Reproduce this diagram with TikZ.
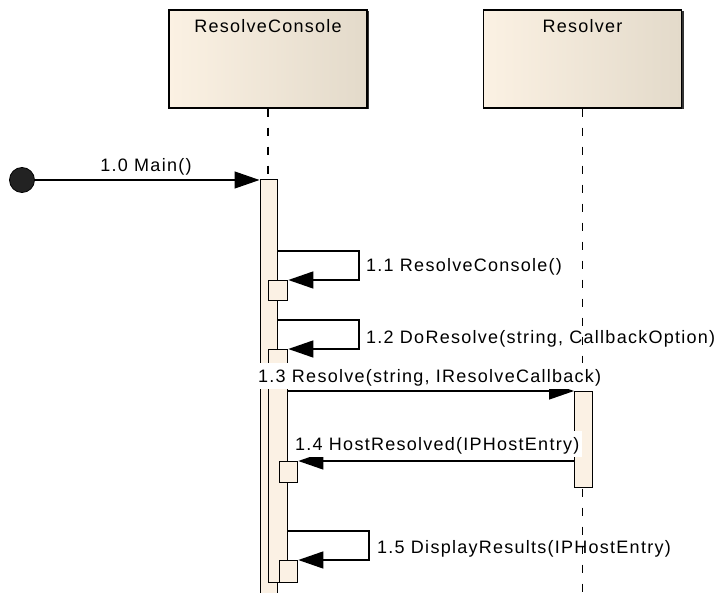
\documentclass[tikz,border=0pt]{standalone}
\usepackage{fontspec}
\setmainfont{Liberation Sans}[LetterSpace=7]
\usetikzlibrary{arrows.meta}

\definecolor{barfill}{RGB}{251,241,228}
\definecolor{hdrlight}{RGB}{251,241,227}
\definecolor{hdrdark}{RGB}{227,218,202}
\definecolor{startdot}{RGB}{34,34,34}

\begin{document}
\begin{tikzpicture}[x=1pt,y=-1pt,
  every node/.style={font=\fontsize{18}{21}\selectfont, text=black},
  header/.style={draw=black, line width=1.1pt, left color=hdrlight, right color=hdrdark,
    minimum width=198pt, minimum height=98pt, inner sep=0pt},
  hshadow/.style={fill=black!80, minimum width=198pt, minimum height=98pt, inner sep=0pt},
  lifeline/.style={line width=1.2pt, dash pattern=on 8pt off 11pt},
  actbar/.style={draw=black, line width=1.3pt, fill=barfill, inner sep=0pt, anchor=north west},
  msg/.style={line width=1.3pt, -{Triangle[length=25pt,width=17pt]}},
  lbl/.style={inner sep=0pt, anchor=base west},
  lblbg/.style={fill=white, anchor=base west, inner xsep=3pt, inner ysep=3pt,
    text height=16pt, text depth=4pt},
]
\useasboundingbox (0,0) rectangle (719,593);

% lifeline heads
\node[hshadow] at (270,60.5) {};
\node[header] (rc) at (268,59) {};
\node[anchor=base] (rctitle) at (268,33) {ResolveConsole};
\node[hshadow] at (584.5,60.5) {};
\node[header] (rs) at (582.5,59) {};
\node[anchor=base] (rstitle) at (582.5,33) {Resolver};

% dashed lifelines
\coordinate (bottom) at (0,600);
\draw[lifeline] (rc.south) -- (rc.south |- bottom);
\draw[lifeline] (rs.south) -- (rs.south |- bottom);

% initial node
\node[circle, fill=startdot, draw=black, line width=0.8pt, minimum size=25pt, inner sep=0pt] (init) at (22,180) {};

% activation bars
\node[actbar, minimum width=17.5pt, minimum height=425pt] (act0) at (259.5,179) {};
\node[actbar, minimum width=19pt, minimum height=20pt] (b1) at (268,280) {};
\node[actbar, minimum width=19pt, minimum height=233pt] (act1) at (268,349) {};
\node[actbar, minimum width=18pt, minimum height=96pt] (act2) at (574,391) {};
\node[actbar, minimum width=18pt, minimum height=21pt] (b4) at (279,461) {};
\node[actbar, minimum width=18pt, minimum height=22pt] (b5) at (279,560) {};

% messages
\draw[msg] (init) -- (init -| act0.west);
\coordinate (t1) at (359,251);
\draw[msg] (act0.east |- t1) -- (t1) |- (b1.north east);
\coordinate (t2) at (359,320);
\draw[msg] (act0.east |- t2) -- (t2) |- (act1.north east);
\draw[msg] (act1.east |- act2.north) -- (act2.north west);
\draw[msg] (act2.west |- b4.north) -- (b4.north east);
\coordinate (t5) at (369,531);
\draw[msg] (act1.east |- t5) -- (t5) |- (b5.north east);

% message labels
\node[anchor=base] (m0) at (146,172) {1.0 Main()};
\node[lbl] (m1) at (366,272) {1.1 ResolveConsole()};
\node[lbl] (m2) at (366,343) {1.2 DoResolve(string, CallbackOption)};
\node[lblbg] (m3) at (255,382) {1.3 Resolve(string, IResolveCallback)};
\node[lblbg] (m4) at (292,450) {1.4 HostResolved(IPHostEntry)};
\node[lbl] (m5) at (377,553) {1.5 DisplayResults(IPHostEntry)};
\end{tikzpicture}
\end{document}
